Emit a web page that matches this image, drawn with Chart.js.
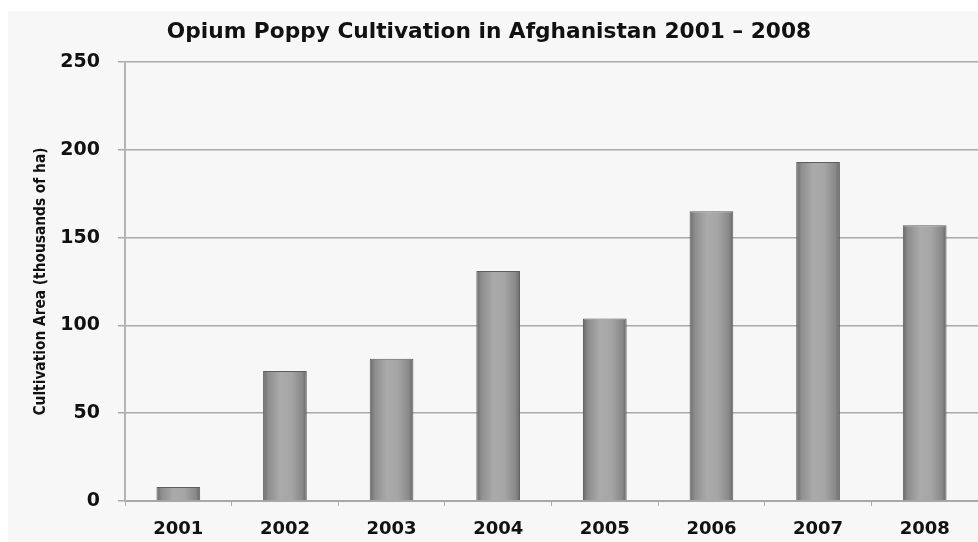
<!DOCTYPE html>
<html>
<head>
<meta charset="utf-8">
<script src="https://cdn.jsdelivr.net/npm/chart.js@4.4.1/dist/chart.umd.min.js"></script>
<style>
  html, body { margin: 0; padding: 0; background: #fff; }
  #wrap { width: 978px; height: 542px; }
</style>
</head>
<body>
<div id="wrap"><canvas id="opiumChart" width="978" height="542"></canvas></div>
<script>
const years = ['2001', '2002', '2003', '2004', '2005', '2006', '2007', '2008'];
const cultivation = [8, 74, 81, 131, 104, 165, 193, 157];
const yTicks = [0, 50, 100, 150, 200, 250];
const barPct = 0.41;

// grey panel behind the chart, white strip on top like the scan
const panelBg = {
    id: 'panelBg',
    beforeDraw(chart) {
        const c = chart.ctx;
        c.save();
        c.fillStyle = '#ffffff';
        c.fillRect(0, 0, chart.width, chart.height);
        c.fillStyle = '#f7f7f7';
        c.fillRect(8, 11, chart.width - 8, chart.height - 11);
        c.restore();
    }
};

// cylinder-ish shading across each bar
function barFill(ctx) {
    const chart = ctx.chart;
    const x = chart.scales.x;
    if (!x || !chart.chartArea || ctx.type !== 'data') return '#999999';
    const center = x.getPixelForValue(ctx.dataIndex);
    const half = x.width / years.length * barPct / 2;
    const g = chart.ctx.createLinearGradient(center - half, 0, center + half, 0);
    g.addColorStop(0, '#6a6a6a');
    g.addColorStop(0.12, '#8e8e8e');
    g.addColorStop(0.4, '#ababab');
    g.addColorStop(0.65, '#a5a5a5');
    g.addColorStop(0.9, '#888888');
    g.addColorStop(1, '#666666');
    return g;
}

new Chart(document.getElementById('opiumChart').getContext('2d'), {
    type: 'bar',
    data: {
        labels: years,
        datasets: [{
            data: cultivation,
            backgroundColor: barFill,
            borderColor: '#5e5e5e',
            borderWidth: 1,
            barPercentage: barPct,
            categoryPercentage: 1
        }]
    },
    plugins: [panelBg],
    options: {
        responsive: false,
        animation: false,
        layout: { padding: { left: 0, right: 0, top: 0, bottom: 0 } },
        plugins: {
            legend: { display: false },
            tooltip: { enabled: false },
            title: {
                display: true,
                text: 'Opium Poppy Cultivation in Afghanistan 2001 \u2013 2008',
                color: '#111111',
                font: { family: 'DejaVu Sans', size: 21.7, weight: 'bold' },
                padding: { top: 19, bottom: 17 }
            }
        },
        scales: {
            x: {
                offset: true,
                grid: {
                    offset: true,
                    drawOnChartArea: false,
                    drawTicks: true,
                    tickLength: 5,
                    color: '#b0b0b0'
                },
                border: { display: true, color: '#a8a8a8', width: 2 },
                ticks: {
                    color: '#111111',
                    padding: 13,
                    font: { family: 'DejaVu Sans', size: 18, weight: 'bold' }
                },
                afterFit(scale) { scale.height = 41; }
            },
            y: {
                min: 0,
                max: 250,
                afterBuildTicks(scale) { scale.ticks = yTicks.map(v => ({ value: v })); },
                grid: {
                    color: '#aaaaaa',
                    lineWidth: 1.5,
                    tickLength: 7
                },
                border: { display: true, color: '#b4b4b4', width: 2 },
                ticks: {
                    color: '#111111',
                    padding: 18,
                    font: { family: 'DejaVu Sans', size: 19, weight: 'bold' }
                },
                title: {
                    display: true,
                    text: 'Cultivation Area (thousands of ha)',
                    color: '#111111',
                    font: { family: "'DejaVu Sans Condensed', 'Liberation Sans Narrow', sans-serif", size: 15.3, weight: 'bold' },
                    padding: { top: 32, bottom: 0 }
                },
                afterFit(scale) { scale.width = 125; }
            }
        }
    }
});
</script>
</body>
</html>
